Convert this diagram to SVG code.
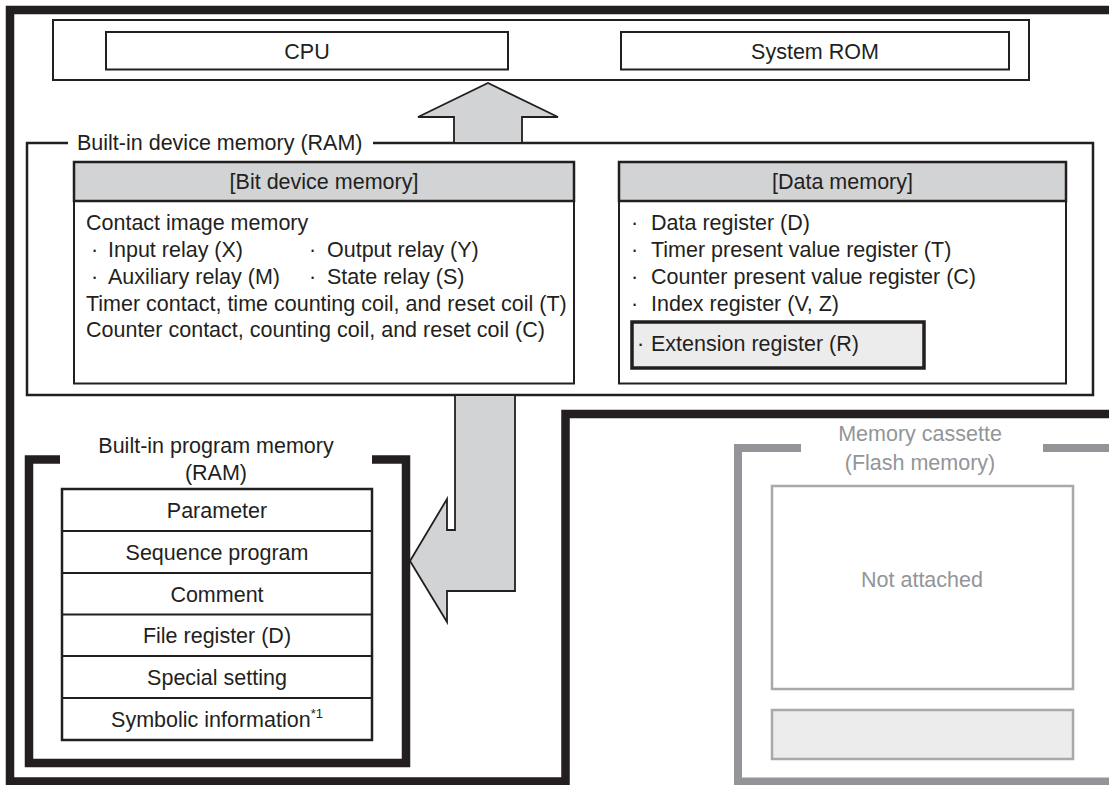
<svg xmlns="http://www.w3.org/2000/svg" width="1109" height="785" viewBox="0 0 1109 785">
<style>
text{font-family:"Liberation Sans",Arial,sans-serif;font-size:21.5px;fill:#231f20}
.c{text-anchor:middle}
.g{fill:#939598}
.box{fill:#fff;stroke:#231f20;stroke-width:2}
.hdr{fill:#d1d3d4;stroke:#231f20;stroke-width:2.5}
.thick{fill:none;stroke:#231f20;stroke-width:8.5;stroke-linejoin:miter}
.gthick{fill:none;stroke:#939598;stroke-width:8;stroke-linejoin:miter}
.gbox{fill:#fff;stroke:#a7a9ac;stroke-width:2.5}
.arrow{fill:#d1d3d4;stroke:#231f20;stroke-width:1.8;stroke-linejoin:miter}
</style>
<rect width="1109" height="785" fill="#fff"/>
<g id="frame"><path class="thick" d="M1109,10 H10 V781.5 H565.5 V414 H1109"/></g>
<g id="top">
<rect class="box" x="53" y="20" width="976" height="60"/>
</g>
<g id="cpu"><rect class="box" x="106" y="32" width="402" height="37.5"/><text class="c" x="307" y="58.5">CPU</text></g>
<g id="rom"><rect class="box" x="621" y="32" width="388" height="37.5"/><text class="c" x="815" y="58.5">System ROM</text></g>
<g id="device-memory">
<path d="M68,143 H27 V395 H1093 V143 H373" fill="none" stroke="#231f20" stroke-width="2.5"/>
<text x="77" y="150">Built-in device memory (RAM)</text>
</g>
<g id="bit-device">
<rect class="box" x="74" y="201" width="500" height="182.5"/>
<rect class="hdr" x="74" y="162" width="500" height="39"/>
<text class="c" x="324" y="189">[Bit device memory]</text>
<text x="86" y="230">Contact image memory</text>
<text><tspan x="91" y="257">·</tspan><tspan x="108" y="257">Input relay (X)</tspan></text>
<text><tspan x="309" y="257">·</tspan><tspan x="327" y="257">Output relay (Y)</tspan></text>
<text><tspan x="91" y="284">·</tspan><tspan x="108" y="284">Auxiliary relay (M)</tspan></text>
<text><tspan x="309" y="284">·</tspan><tspan x="327" y="284">State relay (S)</tspan></text>
<text x="86" y="311">Timer contact, time counting coil, and reset coil (T)</text>
<text x="86" y="337">Counter contact, counting coil, and reset coil (C)</text>
</g>
<g id="data-memory">
<rect class="box" x="619" y="201" width="447" height="182.5"/>
<rect class="hdr" x="619" y="162" width="447" height="39"/>
<text class="c" x="842.5" y="189">[Data memory]</text>
<text><tspan x="631" y="230">·</tspan><tspan x="651" y="230">Data register (D)</tspan></text>
<text><tspan x="631" y="257">·</tspan><tspan x="651" y="257">Timer present value register (T)</tspan></text>
<text><tspan x="631" y="284">·</tspan><tspan x="651" y="284">Counter present value register (C)</tspan></text>
<text><tspan x="631" y="311">·</tspan><tspan x="651" y="311">Index register (V, Z)</tspan></text>
</g>
<g id="extension-register">
<rect x="632" y="322" width="292" height="46" fill="#ececec" stroke="#231f20" stroke-width="3.5"/>
<text><tspan x="637" y="351">·</tspan><tspan x="651" y="351">Extension register (R)</tspan></text>
</g>
<g id="connectors">
<polygon class="arrow" points="454,143 454,117 418,117 488,83 558,117 522,117 522,143"/>
<polygon class="arrow" points="455,395 455,530 447,530 447,499 410,561 447,622 447,591 515,591 515,395"/>
</g>
<g id="program-memory">
<path class="thick" d="M60,459.5 H29 V763 H406 V459.5 H372"/>
<text class="c" x="216" y="453">Built-in program memory</text>
<text class="c" x="216" y="480">(RAM)</text>
<rect x="62" y="489" width="310" height="251" fill="#fff" stroke="#231f20" stroke-width="2.5"/>
<path d="M62,531 H372 M62,573 H372 M62,614.5 H372 M62,656 H372 M62,698 H372" stroke="#231f20" stroke-width="2"/>
<text class="c" x="217" y="518">Parameter</text>
<text class="c" x="217" y="560">Sequence program</text>
<text class="c" x="217" y="602">Comment</text>
<text class="c" x="217" y="643">File register (D)</text>
<text class="c" x="217" y="685">Special setting</text>
<text class="c" x="217" y="727">Symbolic information<tspan font-size="13" dy="-9">*1</tspan></text>
</g>
<g id="memory-cassette">
<path class="gthick" d="M801,448 H738 V781.5 H1109 M1043,448 H1109"/>
<text class="c g" x="920" y="441">Memory cassette</text>
<text class="c g" x="920" y="470">(Flash memory)</text>
<rect class="gbox" x="772" y="486" width="301" height="203"/>
<text class="c g" x="922" y="587">Not attached</text>
<rect x="772" y="710" width="301" height="49" fill="#ececec" stroke="#a7a9ac" stroke-width="2.5"/>
</g>
</svg>
